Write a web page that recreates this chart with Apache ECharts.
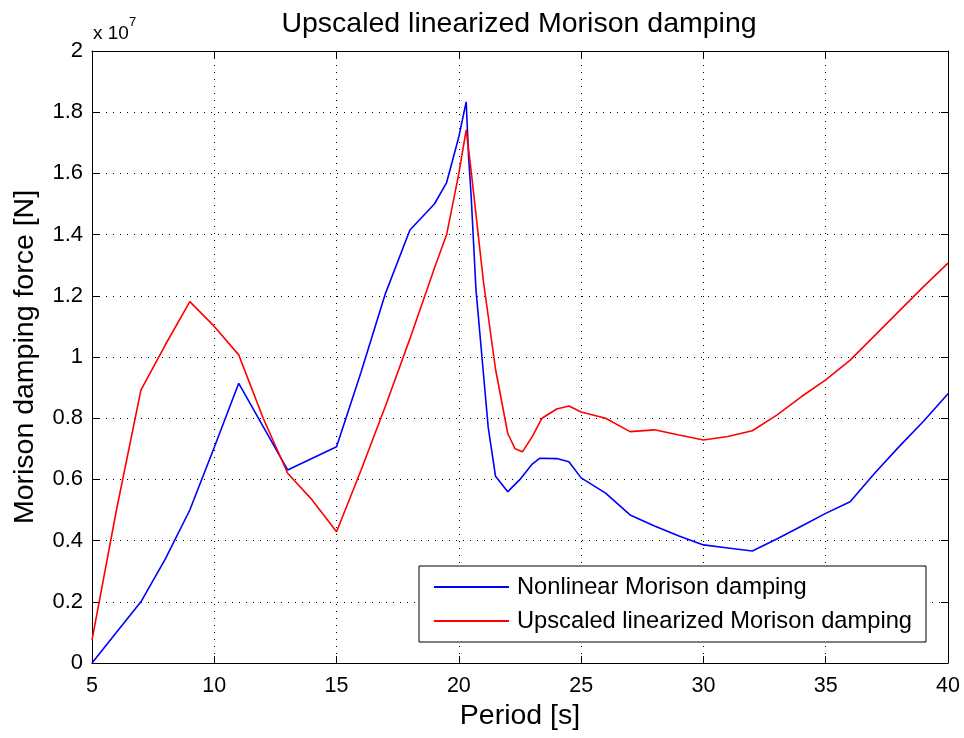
<!DOCTYPE html>
<html>
<head>
<meta charset="utf-8">
<title>Upscaled linearized Morison damping</title>
<script src="https://cdn.jsdelivr.net/npm/echarts/dist/echarts.min.js"></script>
<style>
  html, body { margin: 0; padding: 0; background: #fff; }
  #chart { width: 964px; height: 738px; }
</style>
</head>
<body>
<div id="chart"></div>
<script>
// values in units of 1e7 N
var nonlinPeriod = [5, 7, 8, 9, 10, 11, 13, 15, 16, 17, 18, 19, 19.5, 20, 20.3, 20.4, 20.5, 20.7, 21, 21.2, 21.5,
    22, 22.5, 23, 23.3, 24, 24.5, 25, 26, 27, 28, 29, 30, 31, 32, 33, 34, 35, 36, 37, 38, 39, 40];
var nonlinForce = [0, 0.2, 0.34, 0.5, 0.705, 0.914, 0.631, 0.707, 0.95, 1.208, 1.415, 1.5, 1.57, 1.72, 1.834, 1.65, 1.53, 1.22, 0.95, 0.77, 0.61,
    0.56, 0.6, 0.65, 0.669, 0.668, 0.658, 0.605, 0.555, 0.484, 0.448, 0.415, 0.386, 0.376, 0.366, 0.405, 0.447, 0.489, 0.527, 0.62, 0.707, 0.79, 0.88];

var linPeriod = [5, 6, 7, 8, 9, 10, 11, 12, 13, 14, 15, 16, 17, 18, 19, 19.5, 20, 20.3, 20.5, 21, 21.5, 22, 22.3, 22.6,
    23, 23.4, 24, 24.5, 25, 26, 27, 28, 29, 30, 31, 32, 33, 34, 35, 36, 37, 38, 39, 40];
var linForce = [0.075, 0.5, 0.892, 1.04, 1.181, 1.10, 1.007, 0.80, 0.62, 0.533, 0.429, 0.63, 0.84, 1.06, 1.29, 1.40, 1.60, 1.742, 1.61, 1.25, 0.96, 0.75, 0.70, 0.69,
    0.74, 0.80, 0.83, 0.84, 0.82, 0.80, 0.756, 0.762, 0.745, 0.729, 0.74, 0.759, 0.81, 0.87, 0.925, 0.99, 1.07, 1.15, 1.23, 1.307];

var seriesNames = ['Nonlinear Morison damping', 'Upscaled linearized Morison damping'];
var xTicks = [5, 10, 15, 20, 25, 30, 35, 40];

function zip(xs, ys) {
    var out = [];
    for (var i = 0; i < xs.length; i++) out.push([xs[i], ys[i]]);
    return out;
}

var font = 'Liberation Sans';
var dotted = { color: '#000', width: 1, type: [1, 6] };

var mChart = echarts.init(document.getElementById('chart'), null, { renderer: 'canvas' });

mChart.setOption({
    backgroundColor: '#fff',
    animation: false,
    title: {
        text: 'Upscaled linearized Morison damping',
        left: 514,
        textAlign: 'center',
        top: 5,
        textStyle: { fontFamily: font, fontSize: 28.5, fontWeight: 'normal', color: '#000' }
    },
    graphic: [{
        type: 'text',
        left: 93,
        top: 16,
        style: {
            text: '{a|x 10}{b|7}',
            rich: {
                a: { fontFamily: font, fontSize: 19, fill: '#000', padding: [8, 0, 0, 0] },
                b: { fontFamily: font, fontSize: 13, fill: '#000', verticalAlign: 'top' }
            }
        }
    }],
    legend: {
        orient: 'vertical',
        left: 419,
        top: 566,
        padding: [9, 14, 9, 15],
        itemGap: 10,
        itemWidth: 75,
        itemHeight: 2,
        icon: 'rect',
        backgroundColor: '#fff',
        borderColor: '#000',
        borderWidth: 1,
        textStyle: { fontFamily: font, fontSize: 23.7, color: '#000', padding: [0, 0, 0, 3] },
        data: seriesNames
    },
    grid: { left: 92, right: 16, top: 51, bottom: 75 },
    xAxis: [{
        type: 'value',
        min: xTicks[0],
        max: xTicks[xTicks.length - 1],
        interval: 5,
        name: 'Period [s]',
        nameLocation: 'middle',
        nameGap: 39,
        nameTextStyle: { fontFamily: font, fontSize: 28.5, color: '#000' },
        axisLine: { onZero: false, lineStyle: { color: '#000', width: 1 } },
        axisTick: { inside: true, length: 7, lineStyle: { color: '#000' } },
        axisLabel: { margin: 12, fontFamily: font, fontSize: 21.5, color: '#000' },
        splitLine: { show: true, lineStyle: dotted }
    }, {
        type: 'value',
        position: 'top',
        min: xTicks[0],
        max: xTicks[xTicks.length - 1],
        interval: 5,
        axisLine: { onZero: false, lineStyle: { color: '#000', width: 1 } },
        axisTick: { inside: true, length: 7, lineStyle: { color: '#000' } },
        axisLabel: { show: false },
        splitLine: { show: false }
    }],
    yAxis: [{
        type: 'value',
        min: 0,
        max: 2,
        interval: 0.2,
        name: 'Morison damping force [N]',
        nameLocation: 'middle',
        nameGap: 52,
        nameTextStyle: { fontFamily: font, fontSize: 28.5, color: '#000' },
        axisLine: { show: true, onZero: false, lineStyle: { color: '#000', width: 1 } },
        axisTick: { show: true, inside: true, length: 7, lineStyle: { color: '#000' } },
        axisLabel: {
            margin: 9, fontFamily: font, fontSize: 22, color: '#000',
            formatter: function(v) { return String(Math.round(v * 10) / 10); }
        },
        splitLine: { show: true, lineStyle: dotted }
    }, {
        type: 'value',
        position: 'right',
        min: 0,
        max: 2,
        interval: 0.2,
        axisLine: { show: true, onZero: false, lineStyle: { color: '#000', width: 1 } },
        axisTick: { show: true, inside: true, length: 7, lineStyle: { color: '#000' } },
        axisLabel: { show: false },
        splitLine: { show: false }
    }],
    series: [{
        name: seriesNames[0],
        type: 'line',
        symbol: 'none',
        color: '#0000ff',
        lineStyle: { width: 1.6, color: '#0000ff' },
        data: zip(nonlinPeriod, nonlinForce)
    }, {
        name: seriesNames[1],
        type: 'line',
        symbol: 'none',
        color: '#ff0000',
        lineStyle: { width: 1.6, color: '#ff0000' },
        data: zip(linPeriod, linForce)
    }]
});
</script>
</body>
</html>
